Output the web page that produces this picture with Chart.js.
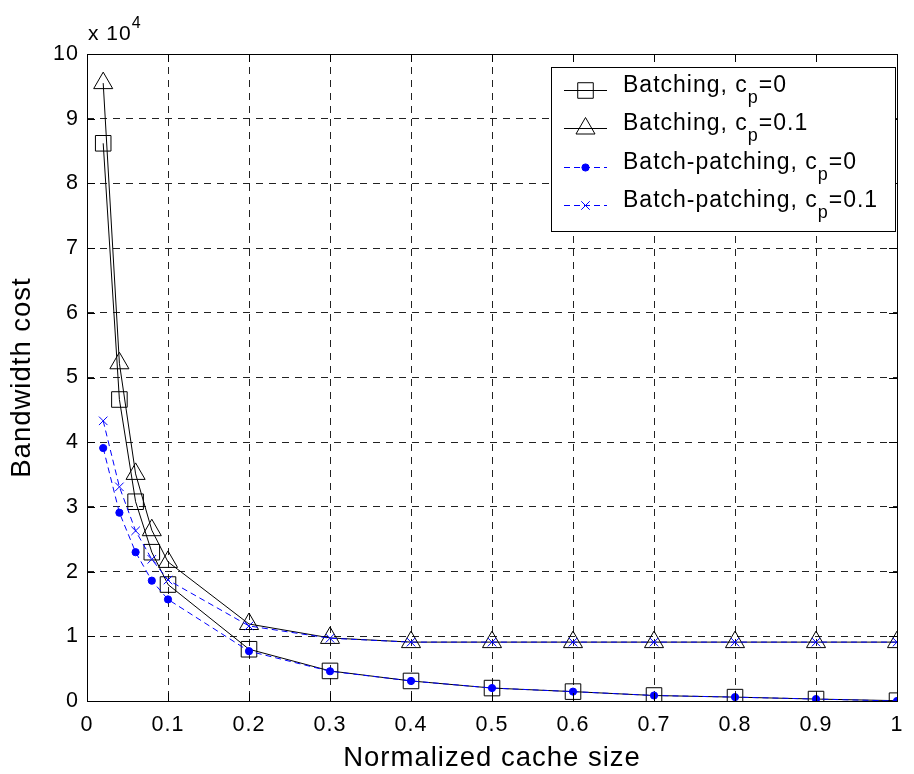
<!DOCTYPE html>
<html>
<head>
<meta charset="utf-8">
<script src="https://cdn.jsdelivr.net/npm/chart.js@4.4.1/dist/chart.umd.min.js"></script>
<style>
html,body{margin:0;padding:0;background:#fff;}
#wrap{width:914px;height:774px;position:relative;}
canvas{display:block;}
</style>
</head>
<body>
<div id="wrap"><canvas id="c" width="914" height="774"></canvas></div>
<script>
// ---- data (bandwidth cost in units of 10^4) ----
const cacheSizes = [0.02, 0.04, 0.06, 0.08, 0.1, 0.2, 0.3, 0.4, 0.5, 0.6, 0.7, 0.8, 0.9, 1.0];
const batchingCp0        = [8.62, 4.66, 3.08, 2.30, 1.80, 0.80, 0.465, 0.31, 0.20, 0.145, 0.085, 0.06, 0.03, 0.005];
const batchingCp01       = [9.55, 5.22, 3.51, 2.64, 2.15, 1.19, 0.975, 0.91, 0.91, 0.91, 0.91, 0.91, 0.91, 0.91];
const batchPatchingCp0   = [3.91, 2.91, 2.30, 1.86, 1.57, 0.77, 0.46, 0.31, 0.20, 0.145, 0.085, 0.06, 0.03, 0.0];
const batchPatchingCp01  = [4.33, 3.31, 2.63, 2.19, 1.87, 1.16, 0.97, 0.91, 0.91, 0.91, 0.91, 0.91, 0.91, 0.91];
const seriesLabels = ['Batching, c_p=0', 'Batching, c_p=0.1', 'Batch-patching, c_p=0', 'Batch-patching, c_p=0.1'];
const xTickValues = [0, 0.1, 0.2, 0.3, 0.4, 0.5, 0.6, 0.7, 0.8, 0.9, 1];
const yTickValues = [0, 1, 2, 3, 4, 5, 6, 7, 8, 9, 10];
const yExponent = '4';
const xTitle = 'Normalized cache size';
const yTitle = 'Bandwidth cost';

const FONT = '"Liberation Sans", Arial, Helvetica, sans-serif';
const BLUE = '#0000ff';

function pts(ys) { return cacheSizes.map((x, i) => ({x: x, y: ys[i]})); }

const datasets = [
  { label: seriesLabels[2], data: pts(batchPatchingCp0), borderColor: BLUE, borderWidth: 1, borderDash: [6, 4],
    pointStyle: 'circle', pointRadius: 3.6, pointBackgroundColor: BLUE, pointBorderColor: BLUE, pointBorderWidth: 1 },
  { label: seriesLabels[3], data: pts(batchPatchingCp01), borderColor: BLUE, borderWidth: 1, borderDash: [6, 4],
    pointStyle: 'crossRot', pointRadius: 6, pointBackgroundColor: BLUE, pointBorderColor: BLUE, pointBorderWidth: 1 },
  { label: seriesLabels[0], data: pts(batchingCp0), borderColor: '#000', borderWidth: 1,
    pointStyle: 'rect', pointRadius: 11, pointBackgroundColor: 'rgba(0,0,0,0)', pointBorderColor: '#000', pointBorderWidth: 1 },
  { label: seriesLabels[1], data: pts(batchingCp01), borderColor: '#000', borderWidth: 1,
    pointStyle: 'triangle', pointRadius: 11, pointBackgroundColor: 'rgba(0,0,0,0)', pointBorderColor: '#000', pointBorderWidth: 1 }
];
datasets.forEach(d => { d.fill = false; d.tension = 0; d.pointHoverRadius = d.pointRadius; });

const legendOrder = [2, 3, 0, 1]; // dataset indices in legend order

function fmtX(v) {
  const r = Math.round(v * 10) / 10;
  if (r === 0) return '0';
  if (r === 1) return '1';
  return r.toFixed(1);
}

function drawLabelWithSub(ctx, text, x, baseline, size) {
  const parts = text.split('_');
  ctx.textAlign = 'left';
  ctx.textBaseline = 'alphabetic';
  ctx.font = size + 'px ' + FONT;
  ctx.fillText(parts[0], x, baseline);
  x += ctx.measureText(parts[0]).width;
  if (parts.length > 1) {
    const sub = parts[1].charAt(0);
    const rest = parts[1].slice(1);
    const subSize = Math.round(size * 0.8);
    ctx.font = subSize + 'px ' + FONT;
    ctx.fillText(sub, x, baseline + 11);
    x += ctx.measureText(sub).width;
    ctx.font = size + 'px ' + FONT;
    ctx.fillText(rest, x, baseline);
  }
}

function drawMarker(ctx, ds, x, y) {
  const opts = { pointStyle: ds.pointStyle, radius: ds.pointRadius, rotation: 0, borderWidth: ds.pointBorderWidth };
  ctx.save();
  ctx.setLineDash([]);
  ctx.strokeStyle = ds.pointBorderColor;
  ctx.fillStyle = ds.pointBackgroundColor;
  ctx.lineWidth = ds.pointBorderWidth;
  if (Chart.helpers && Chart.helpers.drawPoint) {
    Chart.helpers.drawPoint(ctx, opts, x, y);
  }
  ctx.restore();
}

const decor = {
  id: 'decor',
  beforeDraw(chart) {
    try { chart.ctx.letterSpacing = '1px'; } catch (e) {}
  },
  afterDatasetsDraw(chart) {
    const ctx = chart.ctx;
    const a = chart.chartArea;
    const xs = chart.scales.x, ys = chart.scales.y;
    ctx.save();
    ctx.setLineDash([]);
    ctx.strokeStyle = '#000';
    ctx.lineWidth = 1;
    // box
    ctx.strokeRect(Math.round(a.left) + 0.5, Math.round(a.top) + 0.5, Math.round(a.right - a.left), Math.round(a.bottom - a.top));
    // inner ticks
    const tl = 8;
    ctx.beginPath();
    xTickValues.forEach(v => {
      const px = Math.round(xs.getPixelForValue(v)) + 0.5;
      ctx.moveTo(px, a.bottom); ctx.lineTo(px, a.bottom - tl);
      ctx.moveTo(px, a.top); ctx.lineTo(px, a.top + tl);
    });
    yTickValues.forEach(v => {
      const py = Math.round(ys.getPixelForValue(v)) + 0.5;
      ctx.moveTo(a.left, py); ctx.lineTo(a.left + tl, py);
      ctx.moveTo(a.right, py); ctx.lineTo(a.right - tl, py);
    });
    ctx.stroke();
    // exponent label
    ctx.fillStyle = '#000';
    ctx.textAlign = 'left';
    ctx.textBaseline = 'alphabetic';
    ctx.font = '21px ' + FONT;
    const base = 'x 10';
    ctx.fillText(base, a.left + 1, 40);
    const w = ctx.measureText(base).width;
    ctx.font = '16px ' + FONT;
    ctx.fillText(yExponent, a.left + 1 + w, 28);
    ctx.restore();
  },
  afterDraw(chart) {
    const ctx = chart.ctx;
    ctx.save();
    const bx = 551, by = 67, bw = 344, bh = 164;
    ctx.fillStyle = '#fff';
    ctx.fillRect(bx, by, bw, bh);
    ctx.strokeStyle = '#000';
    ctx.lineWidth = 1;
    ctx.setLineDash([]);
    ctx.strokeRect(bx + 0.5, by + 0.5, bw, bh);
    legendOrder.forEach((di, i) => {
      const ds = chart.data.datasets[di];
      const baseline = 92 + 38.3 * i;
      const ly = Math.round(baseline - 2) + 0.5;
      ctx.save();
      ctx.strokeStyle = ds.borderColor;
      ctx.lineWidth = ds.borderWidth;
      ctx.setLineDash(ds.borderDash || []);
      ctx.beginPath();
      ctx.moveTo(564, ly); ctx.lineTo(607, ly);
      ctx.stroke();
      ctx.restore();
      drawMarker(ctx, ds, 585.5, ly);
      ctx.fillStyle = '#000';
      drawLabelWithSub(ctx, ds.label, 623, baseline, 23);
    });
    ctx.restore();
  }
};

Chart.defaults.font.family = FONT;
Chart.defaults.color = '#000';

new Chart(document.getElementById('c'), {
  type: 'line',
  data: { datasets: datasets },
  options: {
    responsive: false,
    animation: false,
    devicePixelRatio: 1,
    events: [],
    layout: { padding: { top: 54, right: 6, left: 0, bottom: 0 } },
    plugins: { legend: { display: false }, tooltip: { enabled: false }, title: { display: false } },
    scales: {
      x: {
        type: 'linear', min: 0, max: 1,
        afterBuildTicks: s => { s.ticks = xTickValues.map(v => ({ value: v })); },
        afterFit: s => { s.height = 73; },
        ticks: { callback: v => fmtX(v), font: { size: 21.5 }, color: '#000', padding: 11, maxRotation: 0, autoSkip: false },
        grid: { color: '#222', lineWidth: 1, drawTicks: false },
        border: { display: false, dash: [7, 6] },
        title: { display: true, text: xTitle, font: { size: 27.5, lineHeight: 1.1 }, color: '#000', padding: { top: 0, bottom: 0 } }
      },
      y: {
        type: 'linear', min: 0, max: 10,
        afterBuildTicks: s => { s.ticks = yTickValues.map(v => ({ value: v })); },
        afterFit: s => { s.width = 87; },
        ticks: { callback: v => String(v), font: { size: 21.5 }, color: '#000', padding: 8, autoSkip: false },
        grid: { color: '#222', lineWidth: 1, drawTicks: false },
        border: { display: false, dash: [7, 6] },
        title: { display: true, text: yTitle, font: { size: 27.5, lineHeight: 1.1 }, color: '#000', padding: { top: 7, bottom: 0 } }
      }
    }
  },
  plugins: [decor]
});
</script>
</body>
</html>
